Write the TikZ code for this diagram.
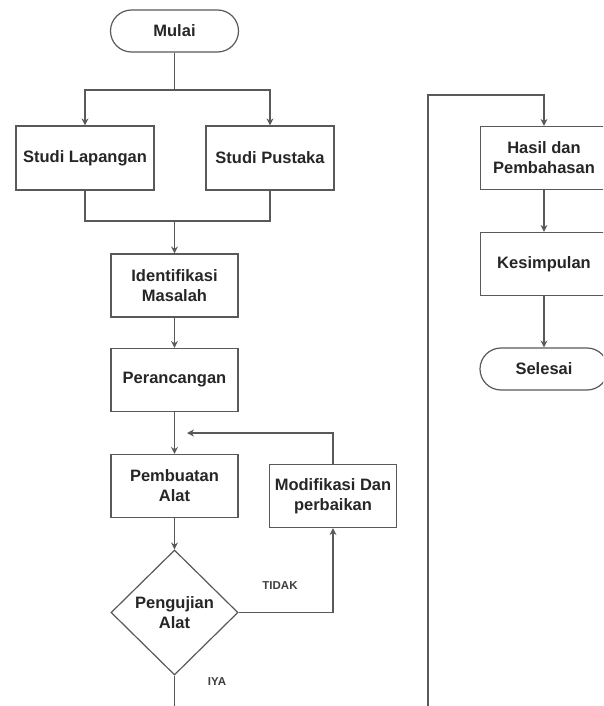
\documentclass[tikz,border=0pt]{standalone}
\usepackage{fontspec}
\setmainfont{Liberation Sans}
\usetikzlibrary{shapes.geometric, arrows.meta}
\newcommand\boxW{127pt}
\newcommand\boxH{63pt}
\newcommand\lineColor{black!65}
\newcommand\lineW{1.2pt}

\begin{document}
\begin{tikzpicture}[x=1pt, y=-1pt,
    every node/.style={font=\bfseries\fontsize{16.5}{20}\selectfont, text=black!85},
    proses/.style={draw=\lineColor, line width=\lineW, rectangle, minimum width=\boxW, minimum height=\boxH, align=center, inner sep=2pt},
    terminal/.style={draw=\lineColor, line width=\lineW, rectangle, rounded corners=21pt, minimum width=128pt, minimum height=42pt},
    keputusan/.style={draw=\lineColor, line width=\lineW, diamond, minimum width=127pt, minimum height=125pt, inner sep=0pt, align=center},
    garis/.style={draw=\lineColor, line width=\lineW},
    panah/.style={garis, -{Stealth[length=7pt, width=7pt]}},
    ket/.style={font=\bfseries\fontsize{11.5}{13}\selectfont, text=black!75}]
    \useasboundingbox (0,0) rectangle (603,706);
    \fill[white] (0,0) rectangle (603,706);
    \clip (0,0) rectangle (603,706);

    \node[terminal] (mulai) at (174.5,31) {Mulai};
    \node[proses, minimum width=138pt, minimum height=64pt] (lapangan) at (85,158) {Studi Lapangan};
    \node[proses, minimum width=128pt, minimum height=64pt] (pustaka) at (270,158) {Studi Pustaka};
    \node[proses] (ident) at (174.5,285.5) {Identifikasi\\Masalah};
    \node[proses] (rancang) at (174.5,380) {Perancangan};
    \node[proses] (buat) at (174.5,486) {Pembuatan\\Alat};
    \node[proses] (modif) at (333,496) {Modifikasi Dan\\perbaikan};
    \node[keputusan] (uji) at (174.5,612.5) {Pengujian\\Alat};
    \node[ket] (tidak) at (280,586) {TIDAK};
    \node[ket] (iya) at (217,682) {IYA};

    \node[proses] (hasil) at (544,158) {Hasil dan\\Pembahasan};
    \node[proses] (simpul) at (544,264) {Kesimpulan};
    \node[terminal] (selesai) at (544,369) {Selesai};

    \coordinate (cabang) at (174.5,90);
    \coordinate (gabung) at (174.5,221);
    \coordinate (balik) at (187,433);

    \draw[garis] (mulai) -- (cabang);
    \draw[panah] (cabang) -| (lapangan);
    \draw[panah] (cabang) -| (pustaka);
    \draw[garis] (lapangan.south) |- (gabung) -| (pustaka.south);
    \draw[panah] (gabung) -- (ident);
    \draw[panah] (ident) -- (rancang);
    \draw[panah] (rancang) -- (buat);
    \draw[panah] (buat) -- (uji);
    \draw[panah] (uji.east) -| (modif.south);
    \draw[panah] (modif.north) |- (balik);
    \draw[panah] (uji.south) -- ++(0,60) -| (428,95) -| (hasil.north);
    \draw[panah] (hasil) -- (simpul);
    \draw[panah] (simpul) -- (selesai);
\end{tikzpicture}
\end{document}
